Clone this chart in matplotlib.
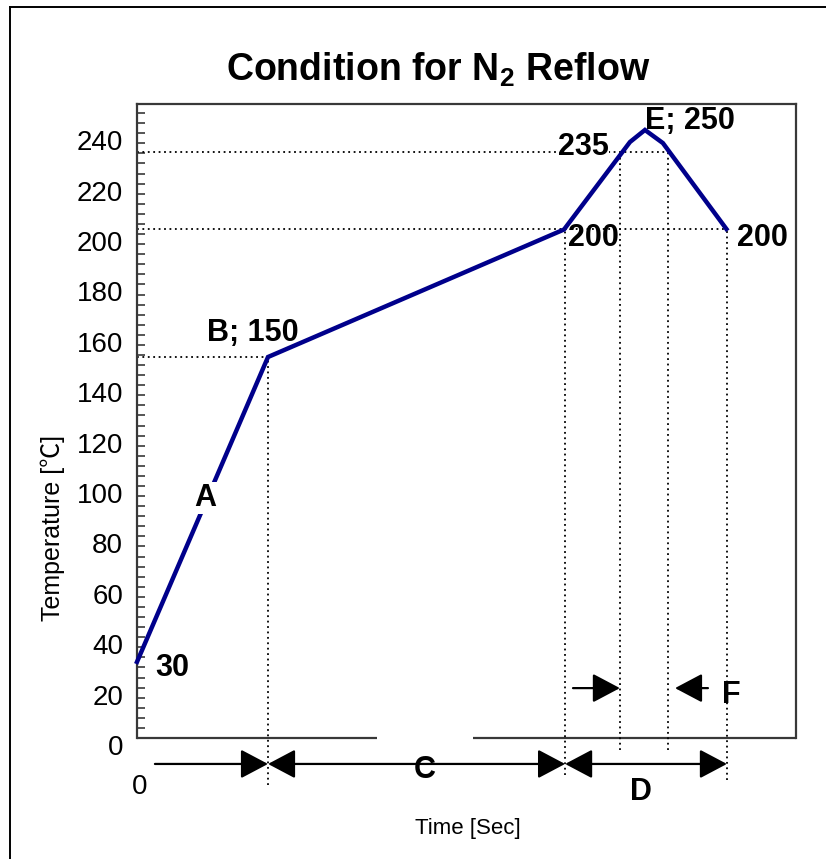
import matplotlib
matplotlib.use("Agg")
import matplotlib.pyplot as plt
from matplotlib.lines import Line2D
from matplotlib.transforms import ScaledTranslation

plt.rcParams['font.family'] = ['Liberation Sans', 'Noto Sans CJK JP', 'DejaVu Sans']
plt.rcParams['mathtext.fontset'] = 'custom'
plt.rcParams['mathtext.rm'] = 'Liberation Sans'
plt.rcParams['mathtext.bf'] = 'Liberation Sans:bold'

# ---- data (profile vertices) ----
time_pts = [0, 49.7, 162.0, 187.0, 192.7, 199.5, 223.6]
temp_pts = [30.2, 151.2, 201.8, 236.5, 241.3, 236.1, 202.0]

# reference (dotted) levels and times
h_levels = [151.2, 202.0, 232.5]
h_ends = [49.7, 223.6, 201.5]
v_times = [49.7, 162.4, 183.2, 201.5, 223.8]
v_tops = [151.2, 202.0, 232.5, 232.5, 202.0]
v_bottoms = [-18.7, -14.7, -4.8, -4.8, -16.7]

y_ticks = list(range(0, 241, 20))
y_minor = list(range(0, 252, 4))

# annotation texts
labels = ["30", "A", "B; 150", "235", "E; 250", "200", "200", "C", "D", "F"]
label_x = [13.3, 25.8, 44.0, 169.2, 209.8, 173.0, 237.1, 109.3, 191.2, 225.3]
label_y = [27.8, 95.2, 160.7, 234.5, 244.8, 198.4, 198.4, -12.7, -21.4, 17.1]
label_bg = [False, True, False, True, False, False, False, False, False, False]

# interval arrows: (start, end, y, style)
arrows = [
    (6.8, 49.7, -10.3, '-|>'),
    (49.7, 162.4, -10.3, '<|-|>'),
    (162.4, 223.8, -10.3, '<|-|>'),
    (165.4, 183.2, 19.8, '-|>'),
    (216.6, 204.1, 19.8, '-|>'),
]

W, H = 826, 859
fig = plt.figure(figsize=(W / 100, H / 100), dpi=100)
ax = fig.add_axes([137 / W, 1 - 738 / H, (796 - 137) / W, (738 - 104) / H])
ax.set_xlim(0, 250)
ax.set_ylim(0, 251.6)

spine_col = '#383838'
for s in ['left', 'right', 'top']:
    ax.spines[s].set_color(spine_col)
    ax.spines[s].set_linewidth(1.6)
ax.spines['bottom'].set_visible(False)
# bottom axis line with a gap
ax.plot([0, 91], [0, 0], color=spine_col, lw=1.6, clip_on=False, solid_capstyle='butt')
ax.plot([127.5, 250], [0, 0], color=spine_col, lw=1.6, clip_on=False, solid_capstyle='butt')

# ticks
ax.set_yticks(y_ticks)
ax.set_yticks(y_minor, minor=True)
ax.tick_params(axis='y', which='both', direction='in', length=6, width=1.2,
               color=spine_col, labelsize=20, pad=10)
ax.tick_params(axis='y', which='minor', length=6)
for lab in ax.get_yticklabels():
    lab.set_transform(lab.get_transform() + ScaledTranslation(0, -0.07, fig.dpi_scale_trans))
ax.set_xticks([0])
ax.set_xticklabels(['0'])
ax.tick_params(axis='x', length=0, labelsize=20, pad=26)
for lab in ax.get_xticklabels():
    lab.set_transform(lab.get_transform() + ScaledTranslation(0.03, 0, fig.dpi_scale_trans))

# dotted guide lines
for lvl, xe in zip(h_levels, h_ends):
    ax.plot([0, xe], [lvl, lvl], color='black', lw=1.3, ls=(0, (1, 2)), clip_on=False)
for t, y0, y1 in zip(v_times, v_bottoms, v_tops):
    ax.plot([t, t], [y0, y1], color='black', lw=1.3, ls=(0, (1, 2)), clip_on=False)

# profile
ax.plot(time_pts, temp_pts, color='#00008B', lw=3.2, solid_joinstyle='miter', zorder=3, clip_on=False)

# arrows
for x0, x1, yy, st in arrows:
    ax.annotate('', xy=(x1, yy), xytext=(x0, yy),
                arrowprops=dict(arrowstyle=st + ',head_length=0.85,head_width=0.45',
                                mutation_scale=20, color='black', lw=1.6,
                                shrinkA=0, shrinkB=0),
                annotation_clip=False)

# labels
for txt, x, y, bg in zip(labels, label_x, label_y, label_bg):
    kw = {}
    if bg:
        kw['bbox'] = dict(facecolor='white', edgecolor='none', pad=0.5)
    ax.text(x, y, txt, fontsize=22, fontweight='bold', ha='center', va='center',
            zorder=5, clip_on=False, **kw)

ax.set_title(r'Condition for $\mathbf{N_2}$ Reflow', fontsize=27, fontweight='bold',
             x=0.457, y=1.04, va='center')
ax.set_xlabel('Time [Sec]', fontsize=16)
ax.xaxis.set_label_coords(0.502, -0.142)
ax.xaxis.label.set_va('center')
ax.set_ylabel('Temperature [℃]', fontsize=18)
ax.yaxis.set_label_coords(-0.1275, 0.331)
ax.yaxis.label.set_va('center')

# outer frame (top and left edges visible)
fig.add_artist(Line2D([10 / W, 10 / W], [0, 1 - 7 / H], color='black', lw=1.4))
fig.add_artist(Line2D([10 / W, 1], [1 - 7 / H, 1 - 7 / H], color='black', lw=1.4))

fig.savefig('out.png', dpi=100)
